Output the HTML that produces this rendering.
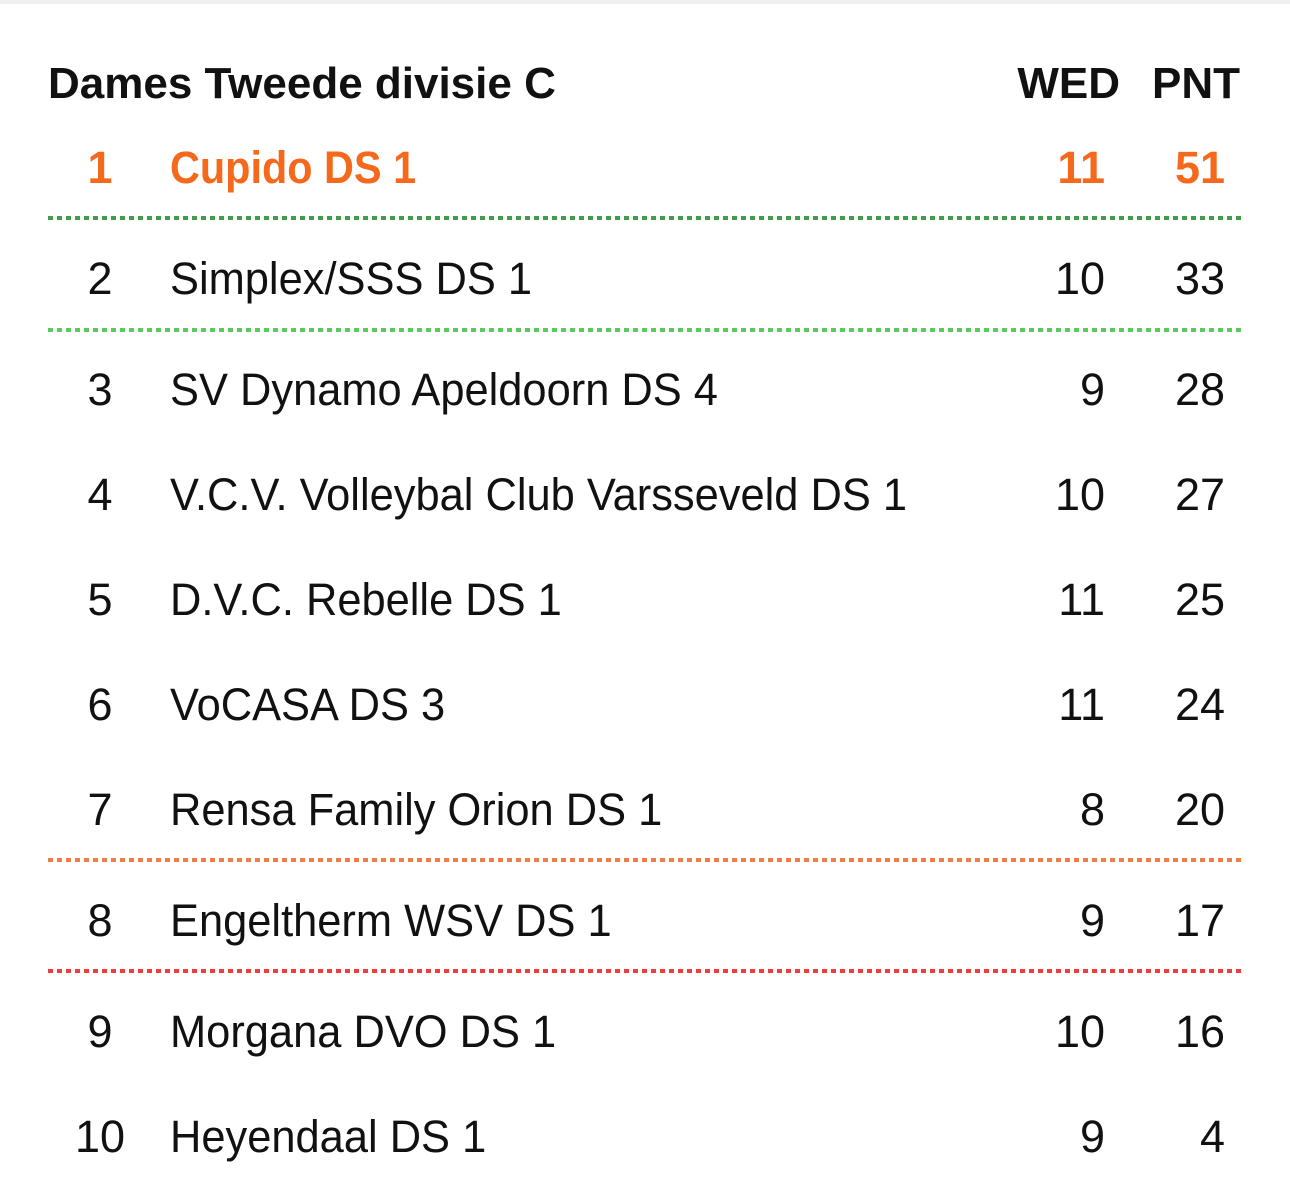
<!DOCTYPE html>
<html><head><style>
body{margin:0;width:1290px;height:1194px;background:#fff;position:relative;overflow:hidden;font-family:"Liberation Sans",sans-serif;color:#111}
.top{position:absolute;left:0;top:0;width:1290px;height:4px;background:#eeeeee}
.t{position:absolute;height:60px;line-height:60px;font-size:45px;white-space:nowrap}
.r{text-align:center;width:80px;left:60px}
.n{left:170px;transform:scaleX(0.965);transform-origin:0 0}
.w{right:185px;text-align:right}
.p{right:65px;text-align:right}
.h{font-weight:bold;font-size:44px}
.o{color:#f5691c;font-weight:bold}
.n.o{transform:scaleX(0.92)}
.l{position:absolute;left:48px;width:1194px;height:4px}
</style></head><body>
<div class="top"></div>
<div class="t h" style="left:48px;top:54px">Dames Tweede divisie C</div>
<div class="t h" style="right:170px;top:54px">WED</div>
<div class="t h" style="right:50px;top:54px">PNT</div>

<div class="t r o" style="top:138px">1</div><div class="t n o" style="top:138px">Cupido DS 1</div><div class="t w o" style="top:138px">11</div><div class="t p o" style="top:138px">51</div>
<div class="l" style="top:216px;background:repeating-linear-gradient(90deg,#3f9f48 0 5px,transparent 5px 9px)"></div>

<div class="t r" style="top:249px">2</div><div class="t n" style="top:249px">Simplex/SSS DS 1</div><div class="t w" style="top:249px">10</div><div class="t p" style="top:249px">33</div>
<div class="l" style="top:328px;background:repeating-linear-gradient(90deg,#5acb5a 0 5px,transparent 5px 9px)"></div>

<div class="t r" style="top:360px">3</div><div class="t n" style="top:360px">SV Dynamo Apeldoorn DS 4</div><div class="t w" style="top:360px">9</div><div class="t p" style="top:360px">28</div>
<div class="t r" style="top:465px">4</div><div class="t n" style="top:465px">V.C.V. Volleybal Club Varsseveld DS 1</div><div class="t w" style="top:465px">10</div><div class="t p" style="top:465px">27</div>
<div class="t r" style="top:570px">5</div><div class="t n" style="top:570px">D.V.C. Rebelle DS 1</div><div class="t w" style="top:570px">11</div><div class="t p" style="top:570px">25</div>
<div class="t r" style="top:675px">6</div><div class="t n" style="top:675px">VoCASA DS 3</div><div class="t w" style="top:675px">11</div><div class="t p" style="top:675px">24</div>
<div class="t r" style="top:780px">7</div><div class="t n" style="top:780px">Rensa Family Orion DS 1</div><div class="t w" style="top:780px">8</div><div class="t p" style="top:780px">20</div>
<div class="l" style="top:858px;background:repeating-linear-gradient(90deg,#f07d45 0 5px,transparent 5px 9px)"></div>

<div class="t r" style="top:891px">8</div><div class="t n" style="top:891px">Engeltherm WSV DS 1</div><div class="t w" style="top:891px">9</div><div class="t p" style="top:891px">17</div>
<div class="l" style="top:969px;background:repeating-linear-gradient(90deg,#f03e3e 0 5px,transparent 5px 9px)"></div>

<div class="t r" style="top:1002px">9</div><div class="t n" style="top:1002px">Morgana DVO DS 1</div><div class="t w" style="top:1002px">10</div><div class="t p" style="top:1002px">16</div>
<div class="t r" style="top:1107px">10</div><div class="t n" style="top:1107px">Heyendaal DS 1</div><div class="t w" style="top:1107px">9</div><div class="t p" style="top:1107px">4</div>
</body></html>
